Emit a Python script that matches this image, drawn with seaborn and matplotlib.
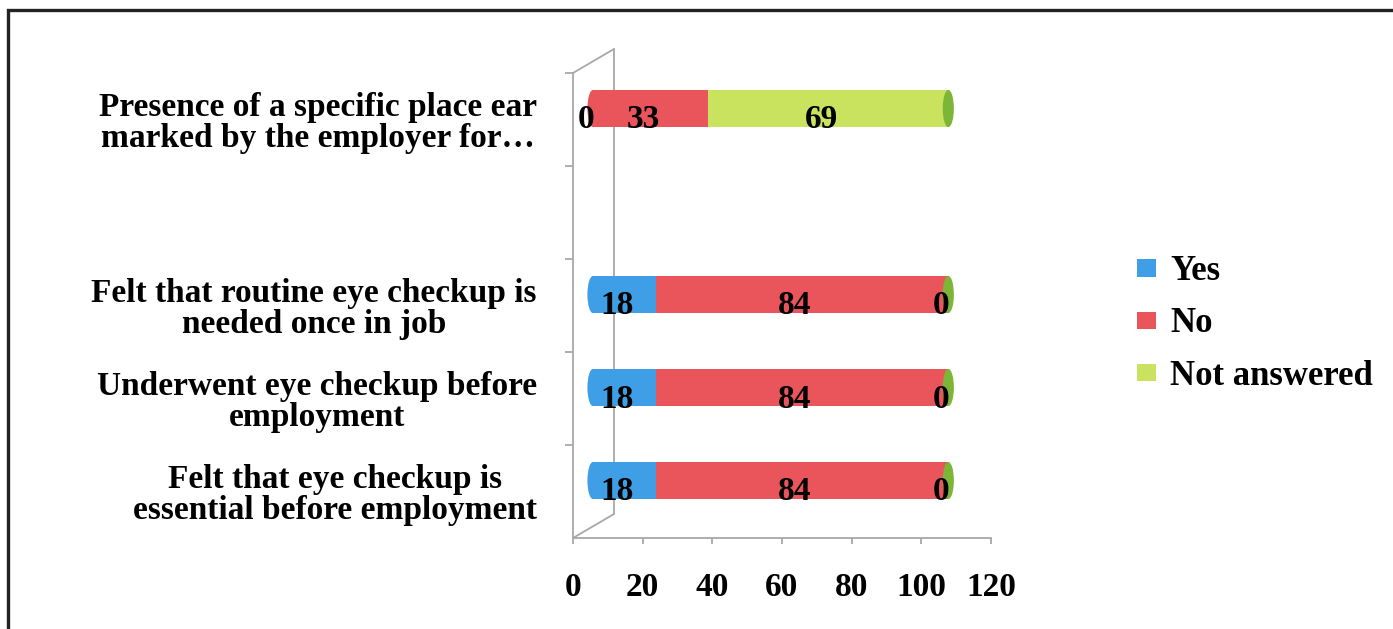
import numpy as np
import pandas as pd
import matplotlib
matplotlib.use("Agg")
import matplotlib.pyplot as plt
import matplotlib.transforms as mtransforms
from matplotlib.patches import Patch, Rectangle, Ellipse
from matplotlib.lines import Line2D
import seaborn as sns

# ---------------- data ----------------
categories = [
    "Presence of a specific place ear\nmarked by the employer for\u2026",
    " ",
    "Felt that routine eye checkup is\nneeded once in job",
    "Underwent eye checkup before\nemployment",
    "Felt that eye checkup is\nessential before employment",
]
series_names = ["Yes", "No", "Not answered"]
yes = [0, np.nan, 18, 18, 18]
no = [33, np.nan, 84, 84, 84]
not_answered = [69, np.nan, 0, 0, 0]
x_ticks = [0, 20, 40, 60, 80, 100, 120]

colors = {"Yes": "#3E9FE6", "No": "#EA555B", "Not answered": "#C9E35E"}
cap_color = "#7DB536"
axis_grey = "#A8A8A8"

sns.set_theme(style="white")
plt.rcParams["font.family"] = ["Liberation Serif", "DejaVu Serif"]
plt.rcParams["font.weight"] = "bold"
plt.rcParams["text.color"] = "black"

df = pd.DataFrame({"question": categories, "Yes": yes, "No": no,
                   "Not answered": not_answered}).dropna()
df["cum_no"] = df["Yes"] + df["No"]
df["cum_na"] = df["cum_no"] + df["Not answered"]

W, H = 1393, 629
fig = plt.figure(figsize=(W / 100, H / 100), dpi=100)
ax = fig.add_axes([573 / W, 1 - 538 / H, 418 / W, 465 / H])

bar_shift = mtransforms.ScaledTranslation(0.20, 0.11, fig.dpi_scale_trans)
label_shift = mtransforms.ScaledTranslation(0.13, 0.03, fig.dpi_scale_trans)

for col, name in [("cum_na", "Not answered"), ("cum_no", "No"), ("Yes", "Yes")]:
    sns.barplot(data=df, x=col, y="question", order=categories, orient="h",
                color=colors[name], width=0.4, errorbar=None, ax=ax,
                saturation=1, linewidth=0, zorder=3)

for p in ax.patches:
    p.set_transform(ax.transData + bar_shift)

# cylinder end caps (derived from row totals and category positions)
pos = {c: i for i, c in enumerate(categories)}
for _, r in df.iterrows():
    y = pos[r["question"]]
    first = "Yes" if r["Yes"] > 0 else "No"
    ax.add_patch(Ellipse((0, y), 3.2, 0.4, facecolor=colors[first], lw=0,
                         transform=ax.transData + bar_shift, zorder=2.9))
    ax.add_patch(Ellipse((r["cum_na"], y), 3.2, 0.4, facecolor=cap_color, lw=0,
                         transform=ax.transData + bar_shift, zorder=3.1))

# data labels
for _, r in df.iterrows():
    y = pos[r["question"]]
    left = 0
    for name in series_names:
        v = r[name]
        ax.text(left + v / 2, y, f"{int(v)}", ha="center", va="center_baseline",
                fontsize=24, fontweight="bold", color="black",
                transform=ax.transData + label_shift, zorder=5)
        left += v

# axes styling
ax.set_xlim(0, 120)
ax.set_ylim(len(categories) - 0.5, -0.5)
ax.set_xticks(x_ticks)
ax.set_xticklabels([str(t) for t in x_ticks])
ax.set_yticks(np.arange(len(categories)) - 0.5, minor=True)
ax.set_xlabel("")
ax.set_ylabel("")
for s in ["top", "right"]:
    ax.spines[s].set_visible(False)
for s in ["left", "bottom"]:
    ax.spines[s].set_color(axis_grey)
    ax.spines[s].set_linewidth(1.3)

ax.tick_params(axis="x", which="major", bottom=True, length=4.5, width=1.3,
               color=axis_grey, pad=20, labelsize=24, labelcolor="black")
ax.tick_params(axis="y", which="major", left=False, length=0, pad=26,
               labelsize=24, labelcolor="black")
ax.tick_params(axis="y", which="minor", left=True, length=6, width=1.3,
               color=axis_grey)
for t in ax.get_yticklabels():
    t.set_multialignment("center")
    t.set_horizontalalignment("right")
    t.set_linespacing(0.98)
    t.set_fontweight("bold")
for t in ax.get_xticklabels():
    t.set_fontweight("bold")

# 3D back wall lines
dx, dy = 41 / 418, 24 / 465
for xs, ys in [([0, dx], [0, dy]), ([dx, dx], [dy, 1 + dy]), ([0, dx], [1, 1 + dy])]:
    ax.add_line(Line2D(xs, ys, transform=ax.transAxes, color=axis_grey, lw=1.3,
                       clip_on=False, zorder=1))

# legend
handles = [Patch(facecolor=colors[n], edgecolor="none") for n in series_names]
fig.legend(handles, series_names, loc="center left",
           bbox_to_anchor=(1137 / W, 1 - 324 / H), frameon=False,
           prop={"weight": "bold", "size": 25}, labelcolor="black",
           handlelength=0.55, handleheight=0.38, handletextpad=0.4,
           labelspacing=0.55, borderpad=0, borderaxespad=0)

# outer frame
fig.add_artist(Rectangle((8 / W, -0.1), 1.2, 1 - 10 / H + 0.1, fill=False,
                         edgecolor="#222222", lw=2.4, transform=fig.transFigure))

fig.savefig("out.png", dpi=100, facecolor="white")
